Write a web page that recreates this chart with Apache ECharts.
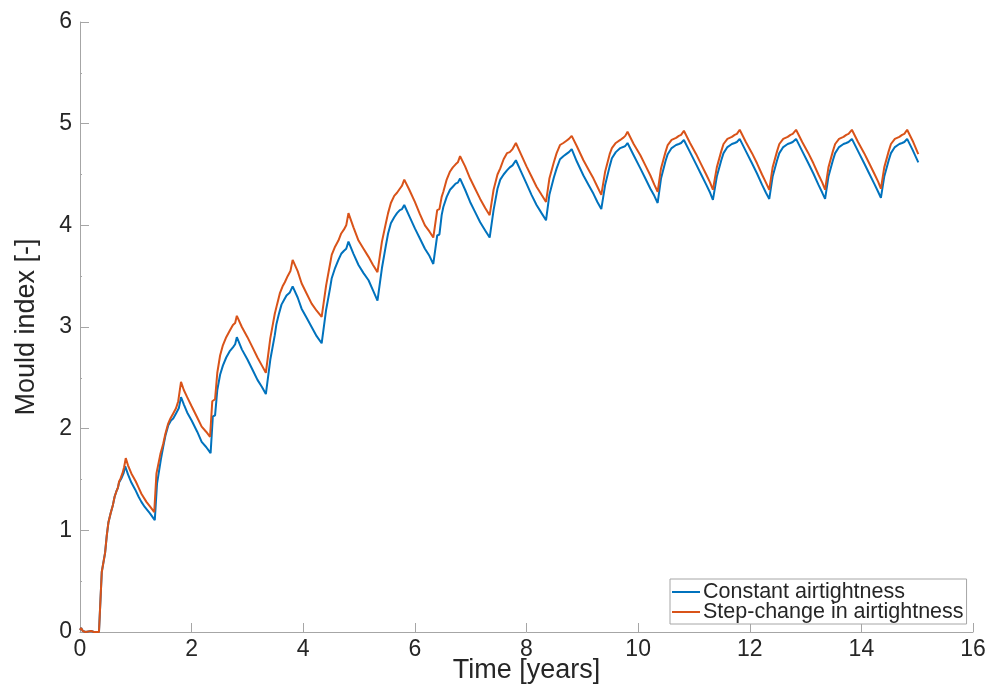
<!DOCTYPE html>
<html>
<head>
<meta charset="utf-8">
<script src="https://cdn.jsdelivr.net/npm/echarts@6/dist/echarts.min.js"></script>
<style>
  html, body { margin: 0; padding: 0; background: #fff; }
  #chart { width: 990px; height: 685px; }
</style>
</head>
<body>
<div id="chart"></div>
<script>
// Mould index over time, [years, index] pairs
const constantAirtightness = [
  [0, 0.02], [0.02, 0.04], [0.05, 0.01], [0.1, 0], [0.2, 0.01], [0.25, 0], [0.34, 0],
  [0.39, 0.59], [0.42, 0.6], [0.45, 0.78], [0.48, 0.95], [0.51, 1.08], [0.55, 1.17],
  [0.59, 1.25], [0.62, 1.33], [0.65, 1.38], [0.68, 1.42], [0.70, 1.47], [0.72, 1.49],
  [0.74, 1.51], [0.76, 1.52], [0.78, 1.56], [0.81, 1.63],
  [0.86, 1.55], [0.92, 1.47], [0.99, 1.40], [1.05, 1.33], [1.1, 1.28], [1.16, 1.23], [1.25, 1.17], [1.34, 1.10],
  [1.38, 1.46], [1.41, 1.47], [1.45, 1.70], [1.49, 1.82], [1.53, 1.93], [1.58, 2.03], [1.63, 2.08],
  [1.67, 2.10], [1.72, 2.15], [1.77, 2.20], [1.81, 2.31],
  [1.86, 2.24], [1.92, 2.16], [2.0, 2.08], [2.1, 1.97], [2.18, 1.87], [2.26, 1.82], [2.34, 1.76],
  [2.38, 2.12], [2.42, 2.13], [2.46, 2.38], [2.51, 2.53], [2.56, 2.62], [2.62, 2.70], [2.68, 2.76],
  [2.74, 2.80], [2.78, 2.83], [2.81, 2.90],
  [2.9, 2.78], [3.0, 2.68], [3.1, 2.57], [3.18, 2.48], [3.26, 2.41], [3.33, 2.34],
  [3.41, 2.68], [3.44, 2.69], [3.49, 2.92], [3.52, 3.03], [3.56, 3.12], [3.61, 3.22], [3.66, 3.27],
  [3.70, 3.31], [3.76, 3.34], [3.81, 3.40],
  [3.9, 3.29], [3.97, 3.18], [4.06, 3.09], [4.15, 3.00], [4.24, 2.91], [4.33, 2.84],
  [4.41, 3.17], [4.44, 3.18], [4.48, 3.38], [4.51, 3.48], [4.57, 3.58], [4.63, 3.66], [4.68, 3.72],
  [4.73, 3.75], [4.77, 3.77], [4.81, 3.84],
  [4.9, 3.72], [4.99, 3.61], [5.08, 3.53], [5.17, 3.46], [5.25, 3.36], [5.33, 3.26],
  [5.41, 3.58], [5.44, 3.59], [5.48, 3.80], [5.52, 3.92], [5.57, 4.02], [5.63, 4.08], [5.68, 4.12],
  [5.73, 4.15], [5.77, 4.16], [5.81, 4.20],
  [5.9, 4.09], [6.0, 3.97], [6.09, 3.87], [6.18, 3.77], [6.26, 3.70], [6.33, 3.62],
  [6.40, 3.90], [6.44, 3.91], [6.48, 4.10], [6.51, 4.18], [6.57, 4.28], [6.63, 4.35], [6.68, 4.38],
  [6.73, 4.41], [6.77, 4.42], [6.81, 4.46],
  [6.9, 4.35], [6.99, 4.23], [7.08, 4.13], [7.17, 4.03], [7.26, 3.95], [7.34, 3.88],
  [7.41, 4.15], [7.44, 4.16], [7.48, 4.36], [7.53, 4.45], [7.59, 4.50], [7.65, 4.54], [7.70, 4.57],
  [7.75, 4.59], [7.78, 4.60], [7.81, 4.64],
  [7.9, 4.53], [8.0, 4.41], [8.09, 4.30], [8.18, 4.20], [8.27, 4.12], [8.35, 4.05],
  [8.41, 4.30], [8.44, 4.31], [8.49, 4.47], [8.54, 4.56], [8.60, 4.65], [8.66, 4.68], [8.71, 4.70],
  [8.76, 4.72], [8.78, 4.71], [8.81, 4.75],
  [8.9, 4.63], [9.02, 4.49], [9.11, 4.40], [9.2, 4.31], [9.27, 4.23], [9.34, 4.16],
  [9.41, 4.40], [9.44, 4.41], [9.49, 4.58], [9.53, 4.66], [9.60, 4.72], [9.68, 4.76], [9.73, 4.77],
  [9.77, 4.78], [9.79, 4.78], [9.81, 4.81],
  [9.92, 4.69], [10.04, 4.56], [10.13, 4.46], [10.22, 4.36], [10.29, 4.29], [10.35, 4.22],
  [10.41, 4.46], [10.44, 4.47], [10.49, 4.63], [10.53, 4.70], [10.60, 4.76], [10.68, 4.79], [10.73, 4.80],
  [10.77, 4.81], [10.79, 4.81], [10.82, 4.84],
  [10.93, 4.72], [11.04, 4.60], [11.13, 4.50], [11.22, 4.40], [11.29, 4.32], [11.34, 4.25],
  [11.41, 4.48], [11.44, 4.48], [11.49, 4.64], [11.53, 4.71], [11.60, 4.77], [11.68, 4.80], [11.73, 4.81],
  [11.77, 4.82], [11.79, 4.82], [11.82, 4.85],
  [11.93, 4.73], [12.04, 4.61], [12.13, 4.51], [12.22, 4.40], [12.29, 4.32], [12.35, 4.26],
  [12.41, 4.48], [12.44, 4.48], [12.49, 4.64], [12.53, 4.71], [12.60, 4.77], [12.68, 4.80], [12.73, 4.81],
  [12.77, 4.82], [12.79, 4.82], [12.83, 4.85],
  [12.94, 4.73], [13.05, 4.61], [13.14, 4.51], [13.23, 4.40], [13.30, 4.32], [13.35, 4.26],
  [13.41, 4.48], [13.44, 4.48], [13.49, 4.64], [13.53, 4.71], [13.60, 4.77], [13.68, 4.80], [13.73, 4.81],
  [13.77, 4.82], [13.79, 4.82], [13.83, 4.85],
  [13.94, 4.73], [14.05, 4.61], [14.14, 4.51], [14.23, 4.41], [14.30, 4.33], [14.35, 4.27],
  [14.41, 4.48], [14.44, 4.49], [14.49, 4.64], [14.53, 4.71], [14.60, 4.77], [14.68, 4.80], [14.73, 4.81],
  [14.77, 4.82], [14.79, 4.82], [14.82, 4.85],
  [14.92, 4.74], [15.02, 4.62]
];

const stepChangeAirtightness = [
  [0, 0.02], [0.02, 0.04], [0.05, 0.01], [0.1, 0], [0.2, 0.01], [0.25, 0], [0.34, 0],
  [0.39, 0.59], [0.42, 0.6], [0.45, 0.78], [0.48, 0.95], [0.51, 1.08], [0.55, 1.17],
  [0.59, 1.25], [0.62, 1.33], [0.65, 1.38], [0.68, 1.42], [0.70, 1.48], [0.72, 1.50],
  [0.74, 1.53], [0.76, 1.56], [0.79, 1.62], [0.82, 1.71],
  [0.86, 1.64], [0.92, 1.56], [1.0, 1.48], [1.05, 1.42], [1.1, 1.36], [1.19, 1.28], [1.26, 1.23], [1.33, 1.18],
  [1.37, 1.56], [1.40, 1.57], [1.44, 1.75], [1.49, 1.85], [1.53, 1.95], [1.58, 2.05], [1.62, 2.10],
  [1.67, 2.15], [1.72, 2.20], [1.76, 2.27], [1.81, 2.46],
  [1.86, 2.38], [1.92, 2.31], [2.0, 2.22], [2.1, 2.11], [2.18, 2.02], [2.26, 1.97], [2.33, 1.92],
  [2.37, 2.27], [2.42, 2.29], [2.46, 2.55], [2.51, 2.72], [2.56, 2.82], [2.62, 2.90], [2.68, 2.96],
  [2.74, 3.02], [2.78, 3.04], [2.81, 3.11],
  [2.9, 3.00], [3.0, 2.90], [3.1, 2.79], [3.18, 2.70], [3.26, 2.62], [3.33, 2.55],
  [3.41, 2.89], [3.44, 2.90], [3.49, 3.13], [3.53, 3.22], [3.58, 3.33], [3.63, 3.40], [3.67, 3.44],
  [3.72, 3.50], [3.77, 3.55], [3.81, 3.66],
  [3.9, 3.55], [3.97, 3.43], [4.06, 3.33], [4.15, 3.23], [4.24, 3.16], [4.33, 3.10],
  [4.41, 3.41], [4.44, 3.42], [4.48, 3.62], [4.51, 3.71], [4.57, 3.79], [4.63, 3.85], [4.68, 3.92],
  [4.73, 3.96], [4.77, 4.00], [4.81, 4.12],
  [4.9, 3.98], [4.99, 3.85], [5.08, 3.77], [5.17, 3.69], [5.25, 3.61], [5.33, 3.54],
  [5.41, 3.84], [5.44, 3.85], [5.48, 4.02], [5.52, 4.12], [5.57, 4.22], [5.63, 4.29], [5.68, 4.32],
  [5.73, 4.36], [5.77, 4.39], [5.81, 4.45],
  [5.9, 4.35], [6.0, 4.23], [6.09, 4.11], [6.18, 4.00], [6.26, 3.94], [6.33, 3.88],
  [6.40, 4.15], [6.44, 4.16], [6.48, 4.28], [6.51, 4.33], [6.57, 4.45], [6.63, 4.53], [6.68, 4.57],
  [6.73, 4.60], [6.77, 4.62], [6.81, 4.68],
  [6.9, 4.58], [6.99, 4.46], [7.08, 4.36], [7.17, 4.26], [7.26, 4.17], [7.34, 4.10],
  [7.41, 4.35], [7.44, 4.36], [7.48, 4.50], [7.53, 4.56], [7.59, 4.65], [7.65, 4.71], [7.70, 4.72],
  [7.75, 4.75], [7.78, 4.76], [7.81, 4.81],
  [7.9, 4.70], [8.0, 4.58], [8.09, 4.48], [8.18, 4.38], [8.27, 4.30], [8.35, 4.23],
  [8.41, 4.46], [8.44, 4.47], [8.49, 4.62], [8.54, 4.71], [8.60, 4.79], [8.66, 4.81], [8.71, 4.83],
  [8.76, 4.85], [8.78, 4.84], [8.81, 4.88],
  [8.9, 4.78], [9.02, 4.64], [9.11, 4.55], [9.2, 4.46], [9.27, 4.38], [9.34, 4.30],
  [9.41, 4.53], [9.44, 4.54], [9.49, 4.70], [9.53, 4.76], [9.60, 4.81], [9.68, 4.84], [9.73, 4.86],
  [9.77, 4.88], [9.79, 4.88], [9.81, 4.92],
  [9.92, 4.80], [10.04, 4.69], [10.13, 4.59], [10.22, 4.49], [10.29, 4.40], [10.35, 4.33],
  [10.41, 4.56], [10.44, 4.57], [10.49, 4.72], [10.53, 4.79], [10.60, 4.84], [10.68, 4.86], [10.73, 4.88],
  [10.77, 4.89], [10.79, 4.89], [10.82, 4.93],
  [10.93, 4.81], [11.04, 4.70], [11.13, 4.60], [11.22, 4.50], [11.29, 4.42], [11.34, 4.35],
  [11.41, 4.57], [11.44, 4.58], [11.49, 4.73], [11.53, 4.80], [11.60, 4.85], [11.68, 4.87], [11.73, 4.89],
  [11.77, 4.90], [11.79, 4.90], [11.82, 4.94],
  [11.93, 4.82], [12.04, 4.71], [12.13, 4.61], [12.22, 4.50], [12.29, 4.42], [12.35, 4.35],
  [12.41, 4.57], [12.44, 4.58], [12.49, 4.73], [12.53, 4.80], [12.60, 4.85], [12.68, 4.87], [12.73, 4.89],
  [12.77, 4.90], [12.79, 4.90], [12.83, 4.94],
  [12.94, 4.82], [13.05, 4.71], [13.14, 4.61], [13.23, 4.50], [13.30, 4.42], [13.35, 4.35],
  [13.41, 4.57], [13.44, 4.58], [13.49, 4.73], [13.53, 4.80], [13.60, 4.85], [13.68, 4.87], [13.73, 4.89],
  [13.77, 4.90], [13.79, 4.90], [13.83, 4.94],
  [13.94, 4.82], [14.05, 4.71], [14.14, 4.61], [14.23, 4.51], [14.30, 4.43], [14.35, 4.36],
  [14.41, 4.57], [14.44, 4.58], [14.49, 4.73], [14.53, 4.80], [14.60, 4.85], [14.68, 4.87], [14.73, 4.89],
  [14.77, 4.90], [14.79, 4.90], [14.82, 4.94],
  [14.92, 4.83], [15.02, 4.70]
];

const seriesNames = ['Constant airtightness', 'Step-change in airtightness'];
const seriesColors = ['#0072BD', '#D95319'];

const axisGray = '#a6a6a6';
const textDark = '#262626';
const fontFamily = 'Liberation Sans, Arial, Helvetica, sans-serif';

const chart = echarts.init(document.getElementById('chart'), null, { renderer: 'canvas' });

chart.setOption({
  animation: false,
  backgroundColor: '#ffffff',
  grid: { left: 80, right: 17, top: 22, bottom: 53, containLabel: false, outerBoundsMode: 'none' },
  legend: {
    orient: 'vertical',
    left: 670,
    top: 579,
    padding: [2, 3, 1, 2],
    itemGap: -2,
    itemWidth: 28,
    itemHeight: 2,
    icon: 'rect',
    backgroundColor: '#ffffff',
    borderColor: axisGray,
    borderWidth: 1,
    borderRadius: 0,
    textStyle: { fontFamily, fontSize: 21.5, color: textDark, padding: [0, 0, 0, -2], lineHeight: 20 },
    data: seriesNames
  },
  xAxis: {
    type: 'value',
    min: 0, max: 16, interval: 2,
    name: 'Time [years]',
    nameLocation: 'middle',
    nameGap: 25,
    nameMoveOverlap: false,
    nameTextStyle: { fontFamily, fontSize: 27, color: textDark },
    axisLine: { lineStyle: { color: axisGray, width: 1 } },
    axisTick: { inside: true, length: 9, lineStyle: { color: axisGray } },
    axisLabel: { fontFamily, fontSize: 23, color: textDark, margin: 6 },
    splitLine: { show: false }
  },
  yAxis: {
    type: 'value',
    min: 0, max: 6, interval: 1,
    name: 'Mould index [-]',
    nameLocation: 'middle',
    nameGap: 40,
    nameMoveOverlap: false,
    nameTextStyle: { fontFamily, fontSize: 27, color: textDark },
    axisLine: { show: true, lineStyle: { color: axisGray, width: 1 } },
    axisTick: { show: true, inside: true, length: 9, lineStyle: { color: axisGray } },
    minorTick: { show: true, splitNumber: 2, length: 2, lineStyle: { color: axisGray } },
    axisLabel: { fontFamily, fontSize: 23, color: textDark, margin: 8 },
    splitLine: { show: false }
  },
  series: [
    {
      name: seriesNames[0],
      type: 'line',
      data: constantAirtightness,
      showSymbol: false,
      symbol: 'none',
      color: seriesColors[0],
      lineStyle: { width: 2, color: seriesColors[0] },
      z: 2
    },
    {
      name: seriesNames[1],
      type: 'line',
      data: stepChangeAirtightness,
      showSymbol: false,
      symbol: 'none',
      color: seriesColors[1],
      lineStyle: { width: 2, color: seriesColors[1] },
      z: 3
    }
  ]
});
</script>
</body>
</html>
